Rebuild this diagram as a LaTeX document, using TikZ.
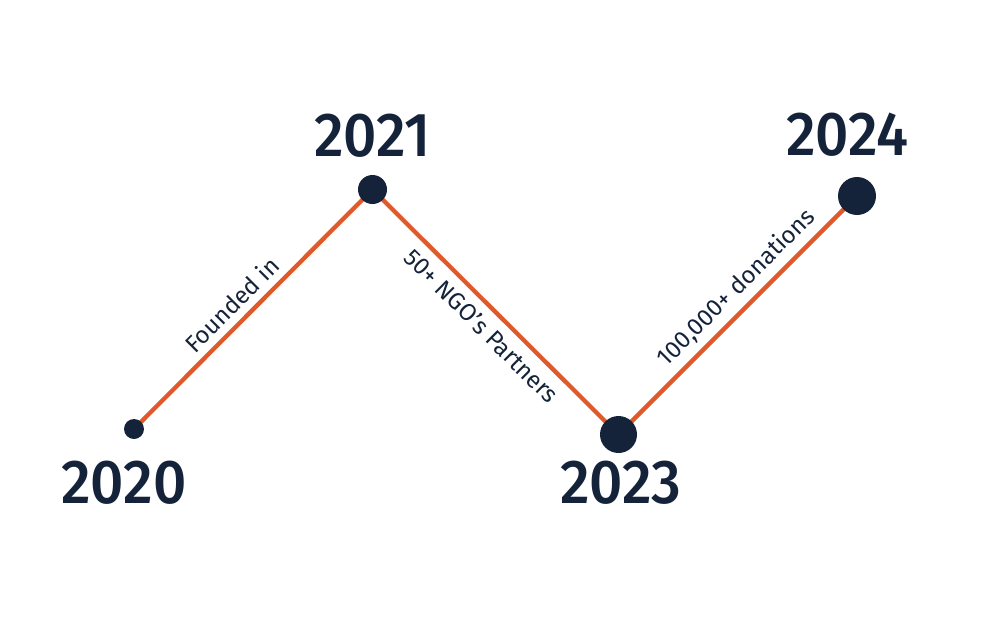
\documentclass[tikz,border=0pt]{standalone}
\usepackage{fontspec}
\newfontfamily\yearfont[FakeStretch=0.94,UprightFont={* Medium}]{Fira Sans}
\newfontfamily\labfont{Fira Sans}
\definecolor{navy}{HTML}{14233A}
\definecolor{orng}{HTML}{E0592A}
\begin{document}
\begin{tikzpicture}[x=1pt,y=-1pt,
  dot/.style={circle,fill=navy,inner sep=0pt},
  link/.style={draw=orng,line width=4.3pt},
  year/.style={text=navy,font=\yearfont\fontsize{62}{62}\selectfont,inner sep=0pt},
  lab/.style={text=navy,font=\labfont\fontsize{24}{24}\selectfont,sloped,inner sep=0pt}]
\useasboundingbox (0,0) rectangle (1000,626);
\coordinate (c0) at (134,429);
\coordinate (c1) at (372.5,189.5);
\coordinate (c2) at (618.5,434.5);
\coordinate (c3) at (857,196);
\draw[link] (c0) -- (c1) node[lab,pos=0.465,above=7pt] {Founded in};
\draw[link] (c1) -- (c2) node[lab,pos=0.5,below=8pt] {50+ NGO’s Partners};
\draw[link] (c2) -- (c3) node[lab,pos=0.555,above=7pt] {100,000+ donations};
\node[dot,minimum size=20pt] (d0) at (c0) {};
\node[dot,minimum size=29pt] (d1) at (c1) {};
\node[dot,minimum size=37pt] (d2) at (c2) {};
\node[dot,minimum size=38pt] (d3) at (c3) {};
\node[year] (y0) at (124,482.5) {2020};
\node[year] (y1) at (372.5,135.5) {2021};
\node[year] (y2) at (621,482.5) {2023};
\node[year] (y3) at (847.5,135) {2024};
\end{tikzpicture}
\end{document}
